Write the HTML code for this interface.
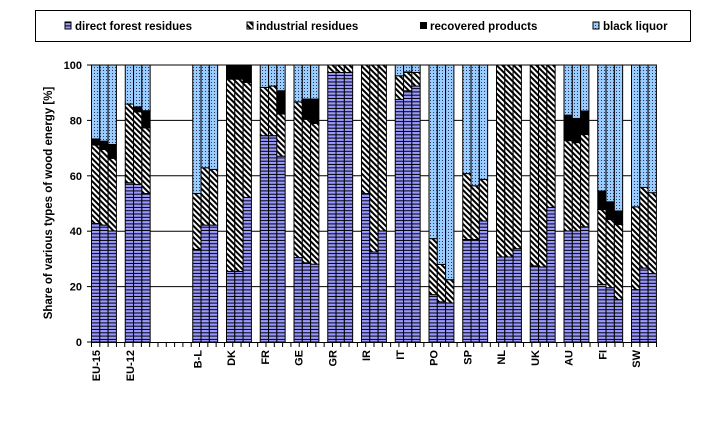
<!DOCTYPE html>
<html><head><meta charset="utf-8"><style>
html,body{margin:0;padding:0;background:#fff;width:705px;height:441px;overflow:hidden}
svg{display:block;font-family:"Liberation Sans",Arial,sans-serif;font-weight:bold}
</style></head><body>
<svg id="s" width="705" height="441" viewBox="0 0 705 441" xmlns="http://www.w3.org/2000/svg">
<defs>
<pattern id="pb" width="4" height="3.3" patternUnits="userSpaceOnUse"><rect width="4" height="3.3" fill="#9999ff"/><rect y="2.3" width="4" height="1" fill="#000"/></pattern>
<pattern id="ph" width="4" height="4" patternUnits="userSpaceOnUse" patternTransform="rotate(-45)"><rect width="4" height="4" fill="#fff"/><rect width="2" height="4" fill="#000"/></pattern>
<pattern id="pl" width="3" height="3" patternUnits="userSpaceOnUse"><rect width="3" height="3" fill="#99ccff"/><rect x="1" y="1" width="1" height="1" fill="#335"/></pattern>
</defs>
<rect x="35.5" y="10.5" width="655" height="31" fill="#fff" stroke="#000"/>
<rect x="65" y="22" width="6" height="7" fill="url(#pb)" stroke="#000" stroke-width="1"/>
<text x="75" y="30" font-size="11.5">direct forest residues</text>
<rect x="247" y="22" width="6" height="7" fill="url(#ph)" stroke="#000" stroke-width="1"/>
<text x="256" y="30" font-size="11.5">industrial residues</text>
<rect x="420" y="22" width="7" height="7" fill="#000"/>
<text x="430" y="30" font-size="11.5">recovered products</text>
<rect x="593" y="22" width="6" height="7" fill="url(#pl)" stroke="#000" stroke-width="1"/>
<text x="603" y="30" font-size="11.5">black liquor</text>
<g id="grid"></g>
<g id="bars"></g>
<g id="axes"></g>
<text transform="translate(52,203) rotate(-90)" text-anchor="middle" font-size="11.5">Share of various types of wood energy [%]</text>
</svg>
<script>
const NS="http://www.w3.org/2000/svg";
function el(p,t,a,txt){const e=document.createElementNS(NS,t);for(const k in a)e.setAttribute(k,a[k]);if(txt!==undefined)e.textContent=txt;document.getElementById(p).appendChild(e);}
const Y=v=>342-2.77*v;
for(let v=20;v<=100;v+=20)el("grid","line",{x1:91.5,x2:656,y1:Y(v),y2:Y(v),stroke:"#000","stroke-width":1});
const D=[
["EU-15",[[42.8,71.1,73.3],[42.2,69.5,72.5],[40.1,66.3,71.3]]],
["EU-12",[[57.5,85.9,85.9],[56.9,83.1,84.9],[53.6,77.3,83.5]]],
["",null],
["B-L",[[33.4,53.6,53.6],[42.2,62.9,62.9],[42.2,62.3,62.3]]],
["DK",[[25.5,94.9,100],[25.5,94.9,100],[52.2,93.7,100]]],
["FR",[[74.5,91.9,91.9],[74.5,92.4,92.4],[67.1,82.3,90.7]]],
["GE",[[30.5,86.7,86.7],[28.6,80.4,87.7],[28.1,78.9,87.7]]],
["GR",[[97.3,100,100],[97.3,100,100],[97.3,100,100]]],
["IR",[[53.6,100,100],[32.5,100,100],[40.1,100,100]]],
["IT",[[87.6,96.1,96.1],[90.7,97.3,97.5],[92.4,97.3,97.3]]],
["PO",[[17.1,37.3,37.3],[14.5,28,28],[14.1,22.5,22.5]]],
["SP",[[37,60.8,60.8],[37,56.4,56.4],[43.7,58.7,58.7]]],
["NL",[[30.7,100,100],[30.7,100,100],[33.7,100,100]]],
["UK",[[27.5,100,100],[27.1,100,100],[48.6,100,100]]],
["AU",[[40.1,72.7,81.9],[40.1,72,80.7],[41.6,74.9,83.4]]],
["FI",[[20.8,47.8,54.5],[19.6,44.2,50.6],[15.3,42.4,47.3]]],
["SW",[[18.9,48.8,48.8],[26.7,55.8,55.8],[24.7,53.9,53.9]]]];
const W=8.3,P=33.75,X0=91.5;
D.forEach((g,gi)=>{
 const gx=X0+gi*P;
 if(g[1]) g[1].forEach((b,k)=>{
  const x=gx+k*W;
  const segs=[[0,b[0],"url(#pb)"],[b[0],b[1],"url(#ph)"],[b[1],b[2],"#000"],[b[2],100,"url(#pl)"]];
  segs.forEach(s=>{if(s[1]-s[0]>0.05)el("bars","rect",{x:x,y:Y(s[1]),width:W,height:Y(s[0])-Y(s[1]),fill:s[2],stroke:"#000","stroke-width":1});});
 });
 if(g[0]) el("axes","text",{transform:`translate(${gx+8.5},350) rotate(-90)`,"text-anchor":"end","font-size":"11"},g[0]);
});
el("axes","line",{x1:91.5,x2:91.5,y1:65,y2:342,stroke:"#000","stroke-width":1});
el("axes","line",{x1:91.5,x2:656,y1:342.5,y2:342.5,stroke:"#000","stroke-width":1});
for(let v=0;v<=100;v+=20){el("axes","line",{x1:87,x2:91.5,y1:Y(v),y2:Y(v),stroke:"#000"});el("axes","text",{x:82,y:Y(v)+4,"text-anchor":"end","font-size":"11"},String(v));}
for(let i=0;i<=68;i++){const x=X0+i*(565/68);el("axes","line",{x1:x,x2:x,y1:342,y2:347,stroke:"#000"});}
</script>
</body></html>
